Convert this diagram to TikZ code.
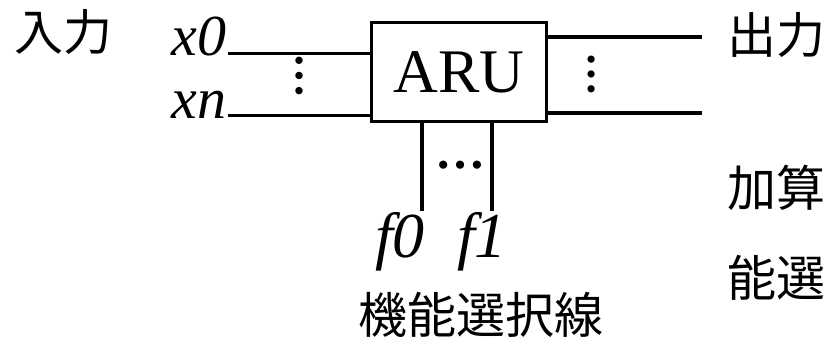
\documentclass[tikz,border=0pt]{standalone}
\usepackage{fontspec}
\setmainfont{Liberation Serif}
\newfontfamily\cjk{Noto Sans CJK JP}
\usetikzlibrary{positioning}

\begin{document}
\begin{tikzpicture}[x=1pt, y=-1pt, line width=3.5pt,
  jp/.style={font=\cjk\fontsize{49}{56}\selectfont, inner sep=0pt},
  sig/.style={font=\itshape\fontsize{58}{64}\selectfont, inner sep=0pt},
  sel/.style={font=\itshape\fontsize{64}{70}\selectfont, inner sep=0pt},
  dotsnode/.style={font=\bfseries\fontsize{#1}{#1}\selectfont, inner sep=0pt}]

\useasboundingbox (0,0) rectangle (826,342);

\node[draw, minimum width=175pt, minimum height=99pt, inner sep=0pt,
  font=\fontsize{62}{70}\selectfont] (aru) at (459,72) {ARU};

% inputs
\node[jp] (inlabel) at (63,32) {入力};
\node[sig, anchor=base east] (x0) at (228,56) {x0};
\node[sig, anchor=base east] (xn) at (228,118) {xn};
\draw (x0.mid east) -- (x0.mid east -| aru.west);
\draw (xn.mid east) -- (xn.mid east -| aru.west);
\node[dotsnode=45, rotate=90] (indots) at (299,76) {…};

% outputs
\coordinate (y0) at (702,37);
\coordinate (yn) at (702,113);
\draw (y0 -| aru.east) -- (y0);
\draw (yn -| aru.east) -- (yn);
\node[dotsnode=44, rotate=90] (outdots) at (592,74) {…};
\node[jp, anchor=west] (outlabel) at (726,35) {出力};

% function select
\coordinate (f0end) at (422,211);
\coordinate (f1end) at (492,211);
\draw (f0end |- aru.south) -- (f0end);
\draw (f1end |- aru.south) -- (f1end);
\node[dotsnode=50] (fdots) at (460,165) {…};
\node[sel, anchor=base] (f0) at (400,257) {f0};
\node[sel, anchor=base] (f1) at (482,257) {f1};
\node[jp] (sellabel) at (481,315) {機能選択線};

\node[jp, anchor=west] (addlabel) at (726,188) {加算};
\node[jp, anchor=west] (fnlabel) at (726,278) {能選};

\end{tikzpicture}
\end{document}
